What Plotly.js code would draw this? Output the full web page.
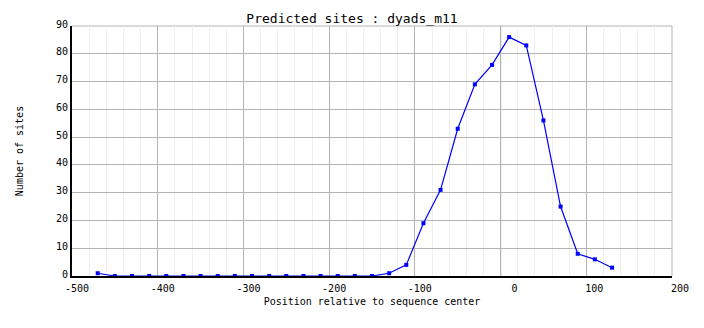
<!DOCTYPE html>
<html>
<head>
<meta charset="utf-8">
<script src="https://cdn.plot.ly/plotly-3.0.1.min.js"></script>
<style>html,body{margin:0;padding:0;background:#fff;}#chart{width:704px;height:328px;}</style>
</head>
<body>
<div id="chart"></div>
<script>
const positions = [-470,-450,-430,-410,-390,-370,-350,-330,-310,-290,-270,-250,-230,-210,-190,-170,-150,-130,-110,-90,-70,-50,-30,-10,10,30,50,70,90,110,130];
const sites     = [1,0,0,0,0,0,0,0,0,0,0,0,0,0,0,0,0,1,4,19,31,53,69,76,86,83,56,25,8,6,3];
const xTickVals = [-500,-400,-300,-200,-100,0,100,200];
const xTickText = ["-500","-400","-300","-200","-100","0","100","200"];
const yTickVals = [0,10,20,30,40,50,60,70,80,90];
const refLineX = 0;

const NB = "\u00A0";
const pad = s => NB.repeat(Math.max(0, 4 - s.length)) + s;
const FONT = "DejaVu Sans Mono";

const trace = {
  x: positions, y: sites, type: "scatter", mode: "lines+markers",
  line: {color: "#0000ff", width: 1.2},
  marker: {color: "#0000ff", symbol: "square", size: 4},
  hoverinfo: "skip"
};

const layout = {
  width: 704, height: 328,
  margin: {l: 72, r: 32, t: 26, b: 52},
  paper_bgcolor: "#fff", plot_bgcolor: "#fff",
  showlegend: false,
  font: {family: FONT, size: 10, color: "#000"},
  title: {text: "Predicted sites : dyads_m11", x: 0.5, xref: "container", xanchor: "center",
          y: 0.945, yref: "container", yanchor: "middle",
          font: {family: FONT, size: 13, color: "#000"}},
  xaxis: {
    range: [-500, 200], tickmode: "array", tickvals: xTickVals, ticktext: xTickText.map(pad),
    ticklabelshift: 5, ticklabelstandoff: 2, ticks: "", showgrid: true, gridcolor: "#b4b4b4", gridwidth: 1,
    minor: {dtick: 20, showgrid: true, gridcolor: "#eeeeee", gridwidth: 1},
    zeroline: false, showline: true, linecolor: "#000", linewidth: 2,
    tickfont: {family: FONT, size: 10, color: "#000"},
    title: {text: "Position relative to sequence center", standoff: 5,
            font: {family: FONT, size: 10, color: "#000"}}
  },
  yaxis: {
    range: [0, 90], tickmode: "array", tickvals: yTickVals, ticks: "",
    ticklabelshift: -2,
    showgrid: true, gridcolor: "#b4b4b4", gridwidth: 1,
    zeroline: false, showline: true, linecolor: "#000", linewidth: 2,
    tickfont: {family: FONT, size: 10, color: "#000"},
    title: {text: "Number of sites", standoff: 30,
            font: {family: FONT, size: 10, color: "#000"}}
  },
  shapes: [
    {type: "line", xref: "x", yref: "paper", x0: refLineX, x1: refLineX, y0: 0, y1: 1,
     line: {color: "#000", width: 1}, layer: "below"},
    {type: "line", xref: "paper", yref: "paper", x0: 0, x1: 1, y0: 1, y1: 1,
     line: {color: "#b4b4b4", width: 1}, layer: "below"},
    {type: "line", xref: "paper", yref: "paper", x0: 1, x1: 1, y0: 0, y1: 1,
     line: {color: "#b4b4b4", width: 1}, layer: "below"}
  ]
};

Plotly.newPlot("chart", [trace], layout, {staticPlot: true, displayModeBar: false});
</script>
</body>
</html>
